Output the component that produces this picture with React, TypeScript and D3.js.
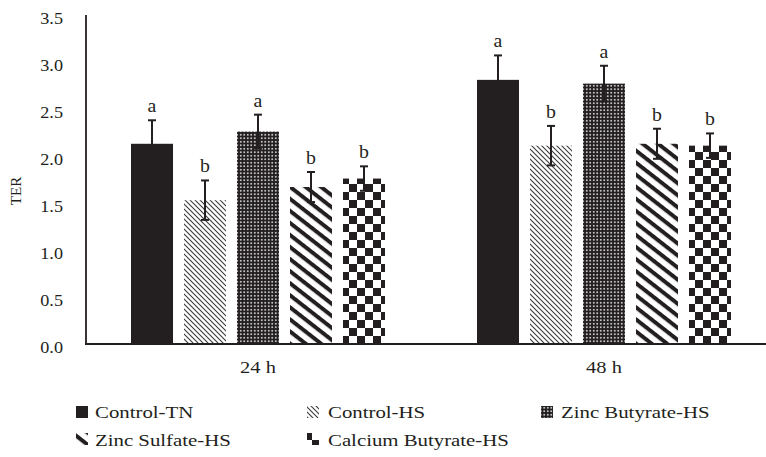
import React from "react";
import * as d3 from "d3";

const groups = ["24 h", "48 h"];
const series = ["Control-TN", "Control-HS", "Zinc Butyrate-HS", "Zinc Sulfate-HS", "Calcium Butyrate-HS"];
const means24 = [2.13, 1.53, 2.26, 1.67, 1.76];
const means48 = [2.81, 2.11, 2.77, 2.13, 2.11];
const err24 = [0.25, 0.21, 0.18, 0.16, 0.13];
const err48 = [0.26, 0.21, 0.19, 0.16, 0.13];
const letters24 = ["a", "b", "a", "b", "b"];
const letters48 = ["a", "b", "a", "b", "b"];
const yTicks = [0, 0.5, 1.0, 1.5, 2.0, 2.5, 3.0, 3.5];

const INK = "#231f20";
const FONT = "'Liberation Serif', 'Times New Roman', serif";
const fills = ["url(#pTN)", "url(#pHS)", "url(#pZB)", "url(#pZS)", "url(#pCB)"];

const W = 766, H = 457;
const x0 = d3.scaleBand<string>().domain(groups).range([85, 777]).paddingInner(0).paddingOuter(0);
const x1 = d3.scaleBand<string>().domain(series).range([0, x0.bandwidth()]).paddingInner(0.2075).paddingOuter(0.868);
const y = d3.scaleLinear().domain([0, 3.5]).range([344, 15]);

function T(props: { x: number; y: number; sx?: number; size: number; anchor?: string; children: React.ReactNode }) {
  const { x, y: yy, sx = 1, size, anchor = "start", children } = props;
  return (
    <text transform={`translate(${x},${yy}) scale(${sx},1)`} fontSize={size} textAnchor={anchor} fill={INK} fontFamily={FONT}>
      {children}
    </text>
  );
}

export default function App() {
  const data = [
    { g: groups[0], m: means24, e: err24, l: letters24 },
    { g: groups[1], m: means48, e: err48, l: letters48 },
  ];
  const legendItems = [
    { i: 0, x: 76, y: 406, tx: 95, ty: 418 },
    { i: 1, x: 307, y: 406, tx: 328, ty: 418 },
    { i: 2, x: 541, y: 406, tx: 561, ty: 418 },
    { i: 3, x: 76, y: 433, tx: 95, ty: 446 },
    { i: 4, x: 307, y: 433, tx: 328, ty: 446 },
  ];
  return (
    <svg width={W} height={H} style={{ display: "block", position: "absolute", left: 0, top: 0 }}>
      <defs>
        <pattern id="pTN" patternUnits="userSpaceOnUse" width={4} height={4}>
          <rect width={4} height={4} fill={INK} />
        </pattern>
        <pattern id="pHS" patternUnits="userSpaceOnUse" width={5} height={5}>
          <rect width={5} height={5} fill="#fff" />
          <path d="M0,0 L5,5 M-1,4 L1,6 M4,-1 L6,1" stroke="#3a3a3a" strokeWidth={1.1} />
        </pattern>
        <pattern id="pZB" patternUnits="userSpaceOnUse" width={3.5} height={3.5}>
          <rect width={3.5} height={3.5} fill={INK} />
          <rect x={1} y={1} width={1.5} height={1.5} fill="#fff" />
        </pattern>
        <pattern id="pZS" patternUnits="userSpaceOnUse" width={10} height={9.5} patternTransform="rotate(38)">
          <rect width={10} height={9.5} fill="#fff" />
          <rect y={0} width={10} height={4} fill={INK} />
        </pattern>
        <pattern id="pCB" patternUnits="userSpaceOnUse" width={16} height={16}>
          <rect width={16} height={16} fill="#fff" />
          <rect x={0} y={0} width={8} height={8} fill={INK} />
          <rect x={8} y={8} width={8} height={8} fill={INK} />
        </pattern>
      </defs>

      {data.map((d) => (
        <g key={d.g} transform={`translate(${x0(d.g)},0)`}>
          {series.map((s, i) => {
            const bx = x1(s)!;
            const bw = x1.bandwidth();
            const cx = bx + bw / 2;
            const top = y(d.m[i]);
            const eHi = y(d.m[i] + d.e[i]);
            const eLo = y(d.m[i] - d.e[i]);
            return (
              <g key={s}>
                <rect x={bx} y={top} width={bw} height={y(0) - top} fill={fills[i]} />
                <line x1={cx} x2={cx} y1={eHi} y2={eLo} stroke={INK} strokeWidth={2} />
                <line x1={cx - 4} x2={cx + 4} y1={eHi} y2={eHi} stroke={INK} strokeWidth={2} />
                <line x1={cx - 4} x2={cx + 4} y1={eLo} y2={eLo} stroke={INK} strokeWidth={2} />
                <T x={cx} y={eHi - 8} size={18} sx={1.1} anchor="middle">{d.l[i]}</T>
              </g>
            );
          })}
          <T x={x0.bandwidth() / 2} y={373} size={17.5} sx={1.17} anchor="middle">{d.g}</T>
        </g>
      ))}

      <line x1={86} x2={86} y1={y(3.5)} y2={y(0)} stroke={INK} strokeWidth={1.8} />
      <line x1={85} x2={W} y1={y(0)} y2={y(0)} stroke={INK} strokeWidth={1.8} />

      {yTicks.map((t) => (
        <T key={t} x={63} y={y(t) + 9} size={17} sx={1.07} anchor="end">{d3.format(".1f")(t)}</T>
      ))}

      <text transform="translate(21,191) rotate(-90)" fontSize={15} textAnchor="middle" fill={INK} fontFamily={FONT}>TER</text>

      {legendItems.map((li) => (
        <g key={li.i}>
          <rect x={li.x} y={li.y} width={12} height={12} fill={fills[li.i]} />
          <T x={li.tx} y={li.ty} size={17.5} sx={1.19}>{series[li.i]}</T>
        </g>
      ))}
    </svg>
  );
}
